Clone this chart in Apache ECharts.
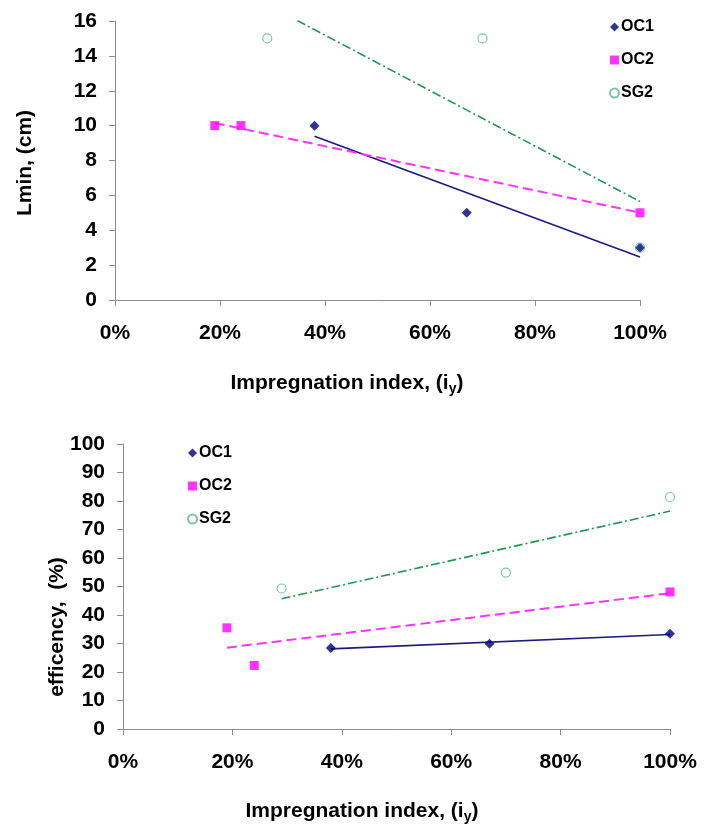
<!DOCTYPE html>
<html>
<head>
<meta charset="utf-8">
<script src="https://cdn.jsdelivr.net/npm/echarts@6/dist/echarts.min.js"></script>
<style>
  html, body { margin: 0; padding: 0; background: #ffffff; }
  #chart { width: 710px; height: 827px; }
</style>
</head>
<body>
<div id="chart"></div>
<script>
// Series names shared by both panels
const seriesNames = ['OC1', 'OC2', 'SG2'];

// Panel 1: minimum length Lmin (cm) against impregnation index (%)
const lminOC1X = [38, 67, 100];
const lminOC1Y = [10, 5, 3];
const lminOC2X = [19, 24, 100];
const lminOC2Y = [10, 10, 5];
const lminSG2X = [29, 70, 100];
const lminSG2Y = [15, 15, 3];

// Panel 2: efficiency (%) against impregnation index (%)
const effOC1X = [38, 67, 100];
const effOC1Y = [28.4, 29.9, 33.4];
const effOC2X = [19, 24, 100];
const effOC2Y = [35.5, 22.3, 48.1];
const effSG2X = [29, 70, 100];
const effSG2Y = [49.3, 54.9, 81.4];

// Axis ticks
const xTicks = [0, 20, 40, 60, 80, 100];
const lminTicks = [0, 2, 4, 6, 8, 10, 12, 14, 16];
const effTicks = [0, 10, 20, 30, 40, 50, 60, 70, 80, 90, 100];

const FONT = "'Liberation Sans', Arial, sans-serif";
const AXIS_GREY = '#8c8c8c';

const styles = {
  OC1: { symbol: 'diamond', size: 10, color: '#00007a', fill: '#00007a',
         line: { color: '#1b1b80', width: 1.6, type: 'solid' } },
  OC2: { symbol: 'rect', size: 9, color: '#ff00ff', fill: '#ff00ff',
         line: { color: '#ff33ff', width: 2, type: [10, 5] } },
  SG2: { symbol: 'circle', size: 9, color: '#5cb892', fill: 'rgba(255,255,255,0)',
         line: { color: '#1e9a4e', width: 1.6, type: [9, 3, 2, 3] } }
};

const zip = (xs, ys) => xs.map((x, i) => [x, ys[i]]);

// Least-squares linear trend across the observed x range
function trend(xs, ys) {
  const n = xs.length;
  const mx = xs.reduce((a, b) => a + b, 0) / n;
  const my = ys.reduce((a, b) => a + b, 0) / n;
  let sxy = 0, sxx = 0;
  for (let i = 0; i < n; i++) {
    sxy += (xs[i] - mx) * (ys[i] - my);
    sxx += (xs[i] - mx) * (xs[i] - mx);
  }
  const b = sxy / sxx;
  const a = my - b * mx;
  const x0 = Math.min(...xs), x1 = Math.max(...xs);
  return [[x0, a + b * x0], [x1, a + b * x1]];
}

function panelSeries(gridIndex, sets) {
  const out = [];
  sets.forEach(([name, xs, ys]) => {
    const s = styles[name];
    out.push({
      type: 'line', name: name + ' trend', xAxisIndex: gridIndex, yAxisIndex: gridIndex,
      data: trend(xs, ys), showSymbol: false, symbol: 'none', clip: true,
      lineStyle: s.line, silent: true, z: 2, animation: false
    });
  });
  sets.forEach(([name, xs, ys]) => {
    const s = styles[name];
    out.push({
      type: 'scatter', name: name, xAxisIndex: gridIndex, yAxisIndex: gridIndex,
      data: zip(xs, ys), symbol: s.symbol, symbolSize: s.size,
      itemStyle: { color: s.fill, borderColor: s.color, borderWidth: name === 'SG2' ? 1.2 : 0 },
      z: 3, animation: false
    });
  });
  return out;
}

function xAxisDef(gridIndex) {
  return {
    type: 'value', gridIndex, min: xTicks[0], max: xTicks[xTicks.length - 1],
    interval: xTicks[1] - xTicks[0],
    axisLine: { show: true, lineStyle: { color: AXIS_GREY, width: 1 } },
    axisTick: { show: true, inside: false, length: 6, lineStyle: { color: AXIS_GREY } },
    splitLine: { show: false },
    axisLabel: { formatter: '{value}%', margin: 23, color: '#000', fontFamily: FONT,
                 fontWeight: 'bold', fontSize: 21 }
  };
}

function yAxisDef(gridIndex, ticks) {
  return {
    type: 'value', gridIndex, min: ticks[0], max: ticks[ticks.length - 1],
    interval: ticks[1] - ticks[0],
    axisLine: { show: true, lineStyle: { color: AXIS_GREY, width: 1 } },
    axisTick: { show: true, inside: false, length: 6, lineStyle: { color: AXIS_GREY } },
    splitLine: { show: false },
    axisLabel: { margin: 18, color: '#000', fontFamily: FONT, fontWeight: 'bold', fontSize: 21 }
  };
}

function legendDef(left, top) {
  return {
    orient: 'vertical', left, top, itemWidth: 9, itemHeight: 9, itemGap: 17,
    data: seriesNames.map(n => ({ name: n })),
    textStyle: { fontFamily: FONT, fontWeight: 'bold', fontSize: 16, color: '#000',
                 padding: [0, 0, 0, -3] },
    selectedMode: false
  };
}

function xTitle(cx, cy) {
  return {
    type: 'text', x: cx, y: cy,
    style: {
      text: '{m|Impregnation index, (i}{s|y}{m|)}',
      align: 'center', verticalAlign: 'middle',
      rich: {
        m: { fontFamily: FONT, fontWeight: 'bold', fontSize: 21, lineHeight: 27, fill: '#000' },
        s: { fontFamily: FONT, fontWeight: 'bold', fontSize: 14, lineHeight: 27,
             verticalAlign: 'bottom', fill: '#000' }
      }
    }
  };
}

function yTitle(text, cx, cy) {
  return {
    type: 'text', x: cx, y: cy, rotation: Math.PI / 2,
    style: { text, align: 'center', verticalAlign: 'middle', fontFamily: FONT,
             fontWeight: 'bold', fontSize: 21, fill: '#000' }
  };
}

const chart = echarts.init(document.getElementById('chart'), null, { renderer: 'canvas' });

chart.setOption({
  backgroundColor: '#ffffff',
  animation: false,
  grid: [
    { left: 115, right: 70, top: 21, bottom: 527 },
    { left: 123, right: 40, top: 444, bottom: 98 }
  ],
  xAxis: [xAxisDef(0), xAxisDef(1)],
  yAxis: [yAxisDef(0, lminTicks), yAxisDef(1, effTicks)],
  legend: [legendDef(604, 14), legendDef(182, 440)],
  series: [
    ...panelSeries(0, [['OC1', lminOC1X, lminOC1Y], ['OC2', lminOC2X, lminOC2Y], ['SG2', lminSG2X, lminSG2Y]]),
    ...panelSeries(1, [['OC1', effOC1X, effOC1Y], ['OC2', effOC2X, effOC2Y], ['SG2', effSG2X, effSG2Y]])
  ],
  graphic: [
    yTitle('Lmin, (cm)', 25, 163),
    yTitle('efficency,  (%)', 57, 627),
    xTitle(347, 383),
    xTitle(362, 811)
  ]
});
</script>
</body>
</html>
